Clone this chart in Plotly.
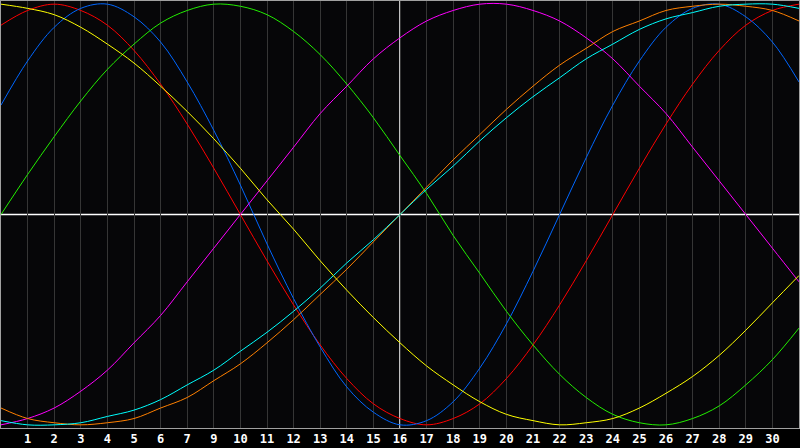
import plotly.graph_objects as go

days = list(range(0, 31))

tick_vals = list(range(1, 30))
tick_text = ["1", "2", "3", "4", "5", "6", "7", "9", "10", "11", "12", "13", "14", "15",
             "16", "17", "18", "19", "20", "21", "22", "23", "24", "25", "26", "27", "28", "29", "30"]

red = [0.90, 0.97, 1.00, 0.97, 0.90, 0.78, 0.62, 0.43, 0.22, 0.00, -0.22, -0.43, -0.62, -0.78, -0.90, -0.97,
       -1.00, -0.97, -0.90, -0.78, -0.62, -0.43, -0.22, 0.00, 0.22, 0.43, 0.62, 0.78, 0.90, 0.97, 1.00]
blue = [0.52, 0.73, 0.89, 0.98, 1.00, 0.94, 0.82, 0.63, 0.40, 0.14, -0.14, -0.40, -0.63, -0.82, -0.94, -1.00,
        -0.98, -0.89, -0.73, -0.52, -0.27, 0.00, 0.27, 0.52, 0.73, 0.89, 0.98, 1.00, 0.94, 0.82, 0.63]
green = [0.00, 0.19, 0.37, 0.54, 0.69, 0.81, 0.91, 0.97, 1.00, 0.99, 0.95, 0.87, 0.76, 0.62, 0.46, 0.28,
         0.10, -0.10, -0.28, -0.46, -0.62, -0.76, -0.87, -0.95, -0.99, -1.00, -0.97, -0.91, -0.81, -0.69, -0.54]
magenta = [-1.00, -0.97, -0.92, -0.84, -0.74, -0.61, -0.48, -0.32, -0.16, 0.00, 0.16, 0.32, 0.48, 0.61, 0.74, 0.84,
           0.92, 0.97, 1.00, 1.00, 0.97, 0.92, 0.84, 0.74, 0.61, 0.48, 0.32, 0.16, 0.00, -0.16, -0.32]
orange = [-0.92, -0.97, -0.99, -1.00, -0.99, -0.97, -0.92, -0.87, -0.79, -0.71, -0.61, -0.50, -0.38, -0.26, -0.13, 0.00,
          0.13, 0.26, 0.38, 0.50, 0.61, 0.71, 0.79, 0.87, 0.92, 0.97, 0.99, 1.00, 0.99, 0.97, 0.92]
cyan = [-0.98, -1.00, -1.00, -0.99, -0.96, -0.93, -0.88, -0.81, -0.74, -0.65, -0.56, -0.46, -0.35, -0.23, -0.12, 0.00,
        0.12, 0.23, 0.35, 0.46, 0.56, 0.65, 0.74, 0.81, 0.88, 0.93, 0.96, 0.99, 1.00, 1.00, 0.98]
yellow = [1.00, 0.98, 0.95, 0.89, 0.81, 0.72, 0.61, 0.49, 0.36, 0.22, 0.07, -0.07, -0.22, -0.36, -0.49, -0.61,
          -0.72, -0.81, -0.89, -0.95, -0.98, -1.00, -0.99, -0.97, -0.92, -0.85, -0.77, -0.67, -0.55, -0.42, -0.29]

series = [
    ("red", red, "#ff0000"),
    ("blue", blue, "#0066ff"),
    ("green", green, "#22ee00"),
    ("magenta", magenta, "#ff00ff"),
    ("orange", orange, "#ff8000"),
    ("cyan", cyan, "#00ffff"),
    ("yellow", yellow, "#ffff00"),
]

fig = go.Figure()
for name, vals, col in series:
    fig.add_trace(go.Scatter(x=days, y=vals, mode="lines", name=name,
                             line=dict(color=col, width=1, shape="spline", smoothing=1.0),
                             hoverinfo="skip"))

fig.add_shape(type="line", xref="x", yref="paper", x0=15, x1=15, y0=0, y1=1,
              line=dict(color="#ffffff", width=1.5), layer="between")
fig.add_shape(type="line", xref="paper", yref="y", x0=0, x1=1, y0=0, y1=0,
              line=dict(color="#ffffff", width=1.5), layer="between")

fig.update_layout(
    width=800, height=448,
    margin=dict(l=1, r=1, t=1, b=20),
    paper_bgcolor="#000000",
    plot_bgcolor="#060608",
    showlegend=False,
    xaxis=dict(range=[0, 30], tickvals=tick_vals, ticktext=tick_text,
               showgrid=True, gridcolor="#353535", gridwidth=1,
               zeroline=False, showline=True, mirror=True, linecolor="#a0a0a0", linewidth=1,
               ticks="", tickfont=dict(family="DejaVu Sans Mono", size=12, color="#ffffff", weight="bold")),
    yaxis=dict(range=[-1.015, 1.015], showgrid=False, zeroline=False, showticklabels=False,
               showline=True, mirror=True, linecolor="#a0a0a0", linewidth=1, ticks=""),
)

fig.write_html("out.html", config={"displayModeBar": False, "staticPlot": True},
               post_script="document.body.style.margin='0px';document.body.style.overflow='hidden';")
